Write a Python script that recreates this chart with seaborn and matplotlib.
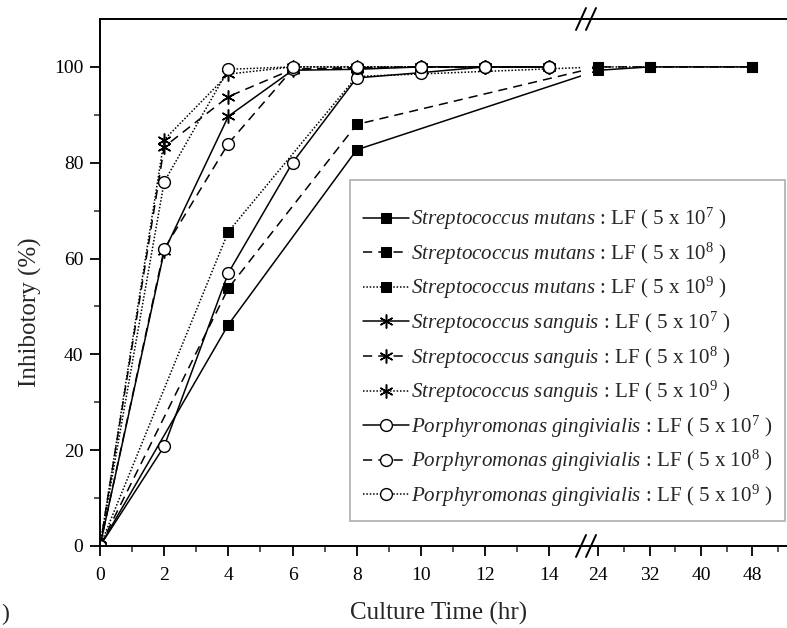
import numpy as np
import pandas as pd
import matplotlib
matplotlib.use("Agg")
import matplotlib.pyplot as plt
import seaborn as sns

# culture times (hr)
t_mutans = [0, 4, 8, 24, 32, 48]
t_other = [0, 2, 4, 6, 8, 10, 12, 14]

# inhibitory (%)
mutans_7 = [0, 46.2, 82.7, 99.3, 100, 100]
mutans_8 = [0, 53.8, 88.0, 100, 100, 100]
mutans_9 = [0, 65.6, 98.0, 100, 100, 100]
sanguis_7 = [0, 61.5, 89.7, 99.3, 99.5, 100, 100, 100]
sanguis_8 = [0, 83.3, 93.8, 99.5, 99.8, 100, 100, 100]
sanguis_9 = [0, 84.8, 98.5, 100, 100, 100, 100, 100]
ging_7 = [0, 20.8, 57.0, 80.0, 97.7, 98.8, 100, 100]
ging_8 = [0, 62.0, 84.0, 99.5, 99.8, 100, 100, 100]
ging_9 = [0, 76.0, 99.5, 100, 100, 100, 100, 100]

major_x = [0, 2, 4, 6, 8, 10, 12, 14, 24, 32, 40, 48]
minor_x = [1, 3, 5, 7, 9, 11, 13, 28, 36, 44, 52]

sns.set_style("ticks")
plt.rcParams['font.family'] = ['Liberation Serif', 'DejaVu Serif']
plt.rcParams['mathtext.fontset'] = 'custom'
plt.rcParams['mathtext.rm'] = 'Liberation Serif'
plt.rcParams['mathtext.it'] = 'Liberation Serif:italic'


def lab(name, p):
    return r"$\it{" + name.replace(" ", r"\ ") + r"}$ : LF ( 5 x 10$^{" + str(p) + r"}$ )"


series = [
    ("Streptococcus mutans", 7, t_mutans, mutans_7),
    ("Streptococcus mutans", 8, t_mutans, mutans_8),
    ("Streptococcus mutans", 9, t_mutans, mutans_9),
    ("Streptococcus sanguis", 7, t_other, sanguis_7),
    ("Streptococcus sanguis", 8, t_other, sanguis_8),
    ("Streptococcus sanguis", 9, t_other, sanguis_9),
    ("Porphyromonas gingivialis", 7, t_other, ging_7),
    ("Porphyromonas gingivialis", 8, t_other, ging_8),
    ("Porphyromonas gingivialis", 9, t_other, ging_9),
]

styles = {7: "-", 8: (0, (6, 4)), 9: (0, (1, 1.2))}


# broken axis: 0-15 linear, then 24-54 compressed 5x
def fwd(x):
    x = np.asarray(x, dtype=float)
    return np.where(x <= 15, x, np.where(x >= 24, 15.53 + (x - 24) / 5, 15 + (x - 15) * 0.53 / 9))


def inv(t):
    t = np.asarray(t, dtype=float)
    return np.where(t <= 15, t, np.where(t >= 15.53, 24 + (t - 15.53) * 5, 15 + (t - 15) * 9 / 0.53))


fig = plt.figure(figsize=(7.87, 6.28), dpi=100)
ax = fig.add_axes([100 / 787, 1 - 546 / 628, 1 - 100 / 787, (546 - 19) / 628])
ax.set_xscale('function', functions=(fwd, inv))

for name, p, t, v in series:
    df = pd.DataFrame({"time": t, "inh": v})
    if "mutans" in name:
        mk = dict(marker="s", markersize=7.2, markerfacecolor="k", markeredgecolor="k")
    elif "sanguis" in name:
        mk = dict(marker=(6, 2, 0), markersize=10, markeredgecolor="k", markeredgewidth=1.1)
    else:
        mk = dict(marker="o", markersize=8.5, markerfacecolor="white", markeredgecolor="k",
                  markeredgewidth=1.0)
    sns.lineplot(data=df, x="time", y="inh", ax=ax, color="k", linestyle=styles[p],
                 linewidth=1.1, errorbar=None, label=lab(name, p), **mk)

ax.set_xlim(0, 53.4)
ax.set_ylim(0, 110)
ax.set_xticks(major_x)
ax.set_xticklabels([str(v) for v in major_x])
ax.set_xticks(minor_x, minor=True)
ax.set_yticks([0, 20, 40, 60, 80, 100])
ax.set_yticks([10, 30, 50, 70, 90], minor=True)
ax.tick_params(axis="both", which="major", direction="out", length=7, width=1.3,
               labelsize=14, colors="k", pad=5)
ax.tick_params(axis="x", which="major", pad=8)
ax.tick_params(axis="both", which="minor", direction="out", length=4, width=1.1)
ax.tick_params(top=False, right=False)

for s in ["left", "bottom", "top"]:
    ax.spines[s].set_linewidth(1.4)
    ax.spines[s].set_color("k")
ax.spines["right"].set_visible(False)

# hide lines inside the break
ax.axvspan(15.0, 20.8, color="white", zorder=2.4, lw=0)

# break marks on top and bottom spines
cx = (586 - 100) / 687
hw, hh = 5 / 687, 11 / 527
for y0 in (0, 1):
    for dx in (-5 / 687, 5 / 687):
        ax.plot([cx + dx - hw, cx + dx + hw], [y0 - hh, y0 + hh], color="k", lw=1.4,
                transform=ax.transAxes, clip_on=False, zorder=5)

ax.set_xlabel("Culture Time (hr)", fontsize=18)
ax.set_ylabel("Inhibotory (%)", fontsize=18)
ax.xaxis.set_label_coords(0.493, -0.106)
ax.yaxis.set_label_coords(-0.085, 0.444)

handles, labels = ax.get_legend_handles_labels()
leg = ax.legend(handles, labels, loc="upper right", bbox_to_anchor=(785 / 787, 1 - 180 / 628),
                bbox_transform=fig.transFigure, fontsize=15.1, frameon=True, fancybox=False,
                edgecolor="#999999", handlelength=2.2, numpoints=1, labelspacing=0.4,
                borderpad=0.6, handletextpad=0.1, borderaxespad=0,
                title=" ", title_fontsize=5)
leg.get_frame().set_linewidth(1.2)

fig.text(0.002, 0.012, ")", fontsize=17)

fig.savefig("out.png", dpi=100)
